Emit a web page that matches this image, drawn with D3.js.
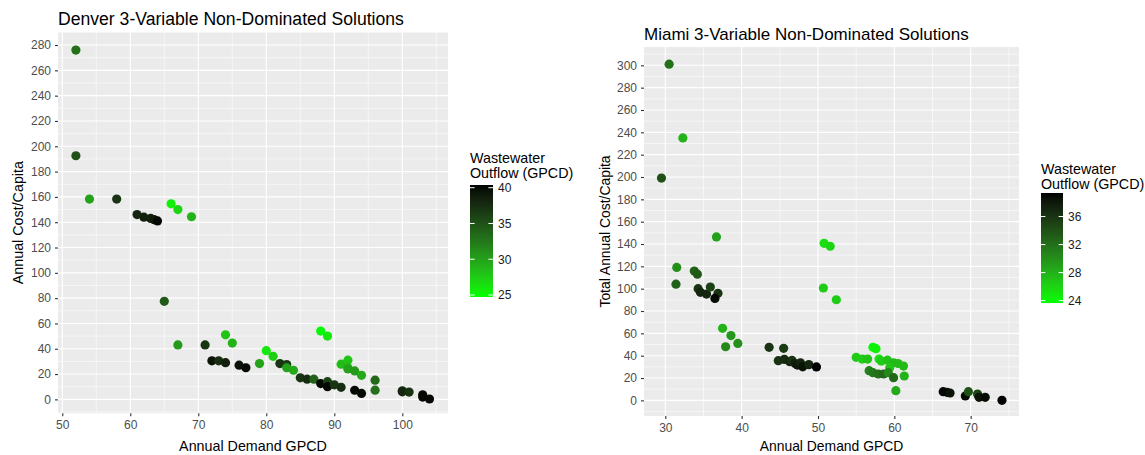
<!DOCTYPE html>
<html>
<head>
<meta charset="utf-8">
<script src="https://cdn.jsdelivr.net/npm/d3@7"></script>
<style>
  body { margin: 0; background: #ffffff; }
  text { font-family: "Liberation Sans", Arial, sans-serif; }
</style>
</head>
<body>
<div id="chart"></div>
<script>
// Denver / Miami non-dominated solutions, two ggplot-style scatter panels

// ---- data ----
var denverDemand = [52, 52, 54, 58, 61, 62, 63, 63.5, 64, 66, 67, 69, 65, 67, 71, 72, 73, 74, 74, 75,
  76, 77, 79, 80, 81, 82, 83, 83, 84, 85, 86, 87, 88, 88, 89, 89, 89, 90, 91, 91,
  92, 92, 92, 93, 93, 94, 94, 96, 96, 100, 100, 101, 103, 103, 104];
var denverCost = [276, 192.5, 158.3, 158.3, 146, 144, 143, 142, 141, 154.5, 150, 144.3, 77.5, 43, 43, 30.5, 30.5, 29, 51, 44.5,
  27, 25, 28.3, 38.5, 34, 28.3, 27.5, 25, 23, 17, 16, 16, 12.5, 54, 50, 14, 10, 11.5, 9.5, 27.8,
  31, 25, 24, 22.5, 7.2, 19, 4.7, 15.2, 7.3, 6.8, 6, 5.8, 3.6, 1.8, 0.3];
var denverOutflow = [33, 35, 30, 37, 38, 38.5, 38.5, 39, 40, 25.5, 27, 29, 34.5, 30.5, 37, 39.5, 37.5, 38.5, 28, 29,
  39.5, 40, 30, 26, 27.5, 37, 36.5, 30, 29.5, 37, 37.5, 34, 40, 25, 26, 36, 40, 37, 37.5, 28.5,
  28, 29, 30, 30.5, 40, 29.5, 40, 33.5, 33, 37.5, 38, 37, 40, 40, 40];

var miamiDemand = [30.5, 32.3, 29.5, 36.7, 31.5, 31.4, 33.8, 34.2, 34.3, 34.6, 35.4, 35.9, 36.9, 36.5, 37.5, 37.9, 38.6, 39.5,
  43.6, 45.5, 44.8, 45.6, 46.3, 46.6, 47, 47.3, 47.7, 48, 48.8, 49.8, 50.8, 51.6, 50.7, 52.4,
  57.2, 57.6, 55, 55.8, 56.5, 58, 58.3, 59.1, 59.9, 60.5, 61.2, 59.4, 56.7, 57.2, 57.9, 58.6, 59.2, 59.9, 61.3, 60.2,
  66.4, 66.9, 67.3, 69.3, 69.7, 70.9, 71.1, 71.9, 74.1];
var miamiCost = [301, 235, 199, 146.3, 119, 104, 115.8, 113, 100, 96.7, 95.2, 101.5, 95.8, 91.3, 64.5, 48, 58, 51,
  47.5, 46.6, 35.5, 36.7, 34.6, 35.8, 33, 31.6, 33.7, 30, 32, 29.9, 140.6, 138, 100.6, 90.1,
  47.5, 46.3, 38.5, 37, 37, 37, 35.2, 36, 33.7, 33, 30.7, 29.3, 26.6, 24.8, 23.6, 23.6, 24.8, 20.3, 21.8, 8.7,
  7.8, 7.2, 6.6, 3.9, 7.8, 5.7, 2.7, 2.7, 0];
var miamiOutflow = [32, 28, 34, 29, 30, 33, 33, 33.5, 36, 37, 37, 35, 36, 39, 28, 30.5, 29.5, 30,
  36, 35.5, 36, 36.5, 37, 36, 37.5, 38, 37, 38.5, 37, 39.3, 25.5, 26, 26.5, 26.5,
  24, 24.5, 26.5, 26.5, 27, 25.5, 26.5, 27, 27.5, 27.5, 27.5, 27, 31, 31.5, 32, 32.5, 30.5, 32.5, 28, 28.5,
  39, 39, 38.5, 39, 34, 35, 38.5, 39, 39.3];

var denverXTicks = [50, 60, 70, 80, 90, 100];
var denverYTicks = [0, 20, 40, 60, 80, 100, 120, 140, 160, 180, 200, 220, 240, 260, 280];
var denverLegendTicks = [25, 30, 35, 40];
var miamiXTicks = [30, 40, 50, 60, 70];
var miamiYTicks = [0, 20, 40, 60, 80, 100, 120, 140, 160, 180, 200, 220, 240, 260, 280, 300];
var miamiLegendTicks = [24, 28, 32, 36];

// ---- canvas ----
var width = 1145;
var height = 455;

var svg = d3.select("#chart")
  .append("svg")
  .attr("width", width)
  .attr("height", height);

var defs = svg.append("defs");

function drawPanel(p) {
  var xScale = d3.scaleLinear().domain(p.xDomain).range([p.left, p.right]);
  var yScale = d3.scaleLinear().domain(p.yDomain).range([p.bottom, p.top]);
  var colour = d3.scaleLinear()
    .domain(p.cDomain)
    .range(["#00ff00", "#000000"])
    .interpolate(d3.interpolateLab);

  var g = svg.append("g");

  // panel background
  g.append("rect")
    .attr("x", p.left)
    .attr("y", p.top)
    .attr("width", p.right - p.left)
    .attr("height", p.bottom - p.top)
    .attr("fill", "#ebebeb");

  // minor grid (half way between the major ticks)
  var xMinor = p.xTicks.map(function(d) { return d - p.xStep / 2; })
    .concat([p.xTicks[p.xTicks.length - 1] + p.xStep / 2]);
  var yMinor = p.yTicks.map(function(d) { return d - p.yStep / 2; })
    .concat([p.yTicks[p.yTicks.length - 1] + p.yStep / 2]);

  g.selectAll(".xminor").data(xMinor.filter(function(d) {
      return d > p.xDomain[0] && d < p.xDomain[1];
    }))
    .enter().append("line")
    .attr("x1", function(d) { return xScale(d); })
    .attr("x2", function(d) { return xScale(d); })
    .attr("y1", p.top).attr("y2", p.bottom)
    .attr("stroke", "#ffffff").attr("stroke-width", 0.55);

  g.selectAll(".yminor").data(yMinor.filter(function(d) {
      return d > p.yDomain[0] && d < p.yDomain[1];
    }))
    .enter().append("line")
    .attr("y1", function(d) { return yScale(d); })
    .attr("y2", function(d) { return yScale(d); })
    .attr("x1", p.left).attr("x2", p.right)
    .attr("stroke", "#ffffff").attr("stroke-width", 0.55);

  // major grid
  g.selectAll(".xmajor").data(p.xTicks)
    .enter().append("line")
    .attr("x1", function(d) { return xScale(d); })
    .attr("x2", function(d) { return xScale(d); })
    .attr("y1", p.top).attr("y2", p.bottom)
    .attr("stroke", "#ffffff").attr("stroke-width", 1.1);

  g.selectAll(".ymajor").data(p.yTicks)
    .enter().append("line")
    .attr("y1", function(d) { return yScale(d); })
    .attr("y2", function(d) { return yScale(d); })
    .attr("x1", p.left).attr("x2", p.right)
    .attr("stroke", "#ffffff").attr("stroke-width", 1.1);

  // axes
  var xAxis = d3.axisBottom(xScale).tickValues(p.xTicks).tickSize(3).tickPadding(4);
  var yAxis = d3.axisLeft(yScale).tickValues(p.yTicks).tickSize(3).tickPadding(4);

  var gx = g.append("g")
    .attr("transform", "translate(0," + p.bottom + ")")
    .call(xAxis);
  var gy = g.append("g")
    .attr("transform", "translate(" + p.left + ",0)")
    .call(yAxis);

  [gx, gy].forEach(function(ax) {
    ax.select(".domain").remove();
    ax.selectAll(".tick line").attr("stroke", "#333333").attr("stroke-width", 1.1);
    ax.selectAll(".tick text")
      .attr("fill", "#4d4d4d")
      .style("font-size", "12px");
  });

  // points
  var pts = p.demand.map(function(d, i) {
    return { x: d, y: p.cost[i], c: p.outflow[i] };
  });

  g.selectAll(".pt").data(pts)
    .enter().append("circle")
    .attr("cx", function(d) { return xScale(d.x); })
    .attr("cy", function(d) { return yScale(d.y); })
    .attr("r", 4.6)
    .attr("fill", function(d) { return colour(d.c); });

  // titles
  g.append("text")
    .attr("x", p.left)
    .attr("y", p.titleY)
    .attr("fill", "#000000")
    .style("font-size", p.titleSize + "px")
    .text(p.title);

  g.append("text")
    .attr("x", (p.left + p.right) / 2)
    .attr("y", 451)
    .attr("text-anchor", "middle")
    .attr("fill", "#000000")
    .style("font-size", p.axisTitleSize + "px")
    .text("Annual Demand GPCD");

  g.append("text")
    .attr("transform", "translate(" + p.yTitleX + "," + ((p.top + p.bottom) / 2) + ")rotate(-90)")
    .attr("text-anchor", "middle")
    .attr("fill", "#000000")
    .style("font-size", p.axisTitleSize + "px")
    .text(p.yTitle);

  // colour bar legend
  var lg = p.legend;
  var gradId = "grad-" + p.id;
  var grad = defs.append("linearGradient")
    .attr("id", gradId)
    .attr("x1", 0).attr("y1", 1).attr("x2", 0).attr("y2", 0);
  d3.range(0, 1.0001, 0.05).forEach(function(t) {
    grad.append("stop")
      .attr("offset", t)
      .attr("stop-color", colour(p.cDomain[0] + t * (p.cDomain[1] - p.cDomain[0])));
  });

  var cScale = d3.scaleLinear().domain(p.cDomain).range([lg.bottom, lg.top]);

  g.append("text")
    .attr("x", lg.x)
    .attr("y", lg.titleY)
    .attr("fill", "#000000")
    .style("font-size", "14.3px")
    .text("Wastewater");
  g.append("text")
    .attr("x", lg.x)
    .attr("y", lg.titleY + 15)
    .attr("fill", "#000000")
    .style("font-size", "14.3px")
    .text("Outflow (GPCD)");

  g.append("rect")
    .attr("x", lg.x)
    .attr("y", lg.top)
    .attr("width", lg.w)
    .attr("height", lg.bottom - lg.top)
    .attr("fill", "url(#" + gradId + ")");

  var lt = g.selectAll(".ltick").data(p.legendTicks).enter().append("g");
  lt.append("line")
    .attr("x1", lg.x).attr("x2", lg.x + lg.w / 5)
    .attr("y1", function(d) { return cScale(d); })
    .attr("y2", function(d) { return cScale(d); })
    .attr("stroke", "#ffffff").attr("stroke-width", 1);
  lt.append("line")
    .attr("x1", lg.x + lg.w - lg.w / 5).attr("x2", lg.x + lg.w)
    .attr("y1", function(d) { return cScale(d); })
    .attr("y2", function(d) { return cScale(d); })
    .attr("stroke", "#ffffff").attr("stroke-width", 1);
  lt.append("text")
    .attr("x", lg.x + lg.w + 5)
    .attr("y", function(d) { return cScale(d); })
    .attr("dy", "0.36em")
    .attr("fill", "#1a1a1a")
    .style("font-size", "12px")
    .text(function(d) { return d; });
}

drawPanel({
  id: "denver",
  title: "Denver 3-Variable Non-Dominated Solutions",
  yTitle: "Annual Cost/Capita",
  demand: denverDemand, cost: denverCost, outflow: denverOutflow,
  xTicks: denverXTicks, yTicks: denverYTicks, legendTicks: denverLegendTicks,
  xStep: 10, yStep: 20,
  xDomain: [49.37, 106.72], yDomain: [-11, 290.3], cDomain: [24.72, 40.38],
  left: 58, right: 448, top: 32, bottom: 413.3,
  titleY: 25, yTitleX: 23, titleSize: 17.6, axisTitleSize: 14.3,
  legend: { x: 470, w: 23, top: 185, bottom: 297, titleY: 163 }
});

drawPanel({
  id: "miami",
  title: "Miami 3-Variable Non-Dominated Solutions",
  yTitle: "Total Annual Cost/Capita",
  demand: miamiDemand, cost: miamiCost, outflow: miamiOutflow,
  xTicks: miamiXTicks, yTicks: miamiYTicks, legendTicks: miamiLegendTicks,
  xStep: 10, yStep: 20,
  xDomain: [27.21, 76.33], yDomain: [-14, 316.4], cDomain: [23.66, 39.36],
  left: 644, right: 1019, top: 47, bottom: 416,
  titleY: 40, yTitleX: 609.5, titleSize: 17, axisTitleSize: 13.9,
  legend: { x: 1041, w: 22, top: 193, bottom: 303, titleY: 174 }
});
</script>
</body>
</html>
